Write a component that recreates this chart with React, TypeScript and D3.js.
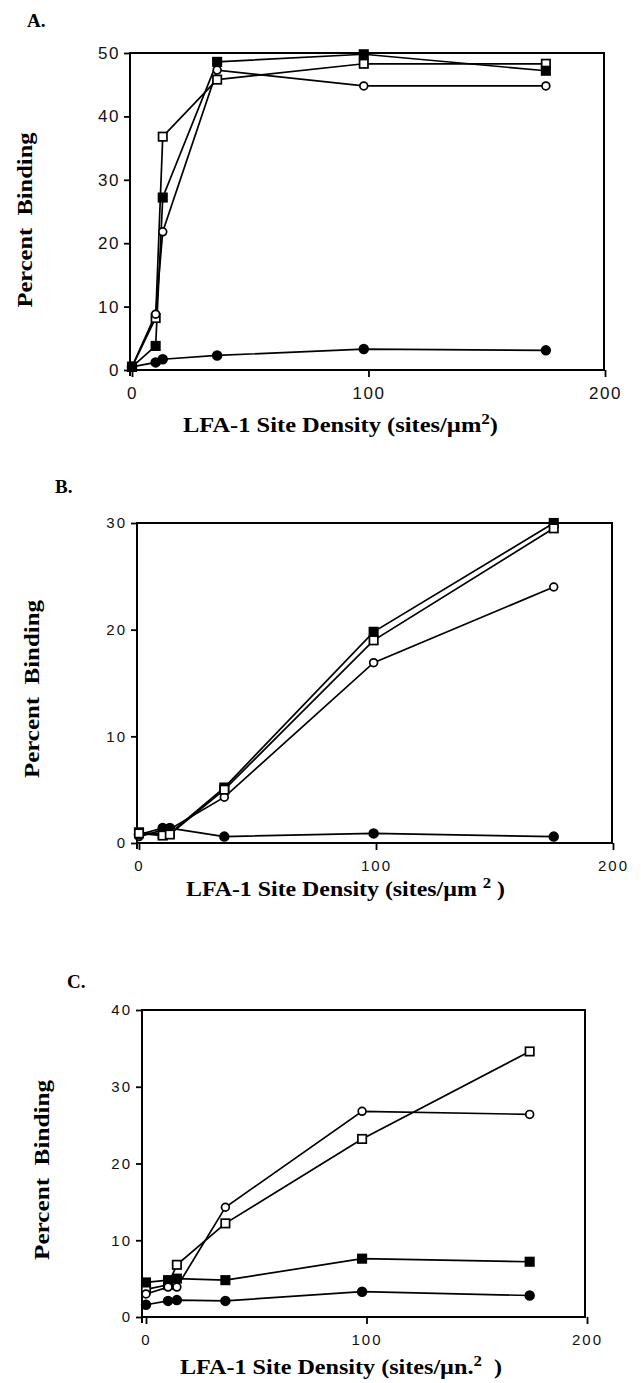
import * as d3 from "d3";
import { useEffect, useRef } from "react";

// site densities (sites/um^2) used in each panel
const densityA = [0, 10, 13, 36, 98, 175];
const densityB = [0, 10, 13, 36, 99, 175];
const densityC = [0, 10, 14, 36, 98, 174];

// panel A
const aOpenSquare = [0.5, 8.2, 36.8, 45.8, 48.3, 48.3];
const aFilledSquare = [0.5, 3.8, 27.2, 48.6, 49.8, 47.2];
const aOpenCircle = [0.5, 8.8, 21.8, 47.3, 44.8, 44.8];
const aFilledCircle = [0.5, 1.2, 1.7, 2.3, 3.3, 3.1];

// panel B
const bOpenSquare = [0.9, 0.7, 0.8, 5.0, 19.0, 29.5];
const bFilledSquare = [1.0, 0.8, 0.9, 5.2, 19.8, 30.0];
const bOpenCircle = [0.6, 1.2, 1.3, 4.3, 16.9, 24.0];
const bFilledCircle = [0.8, 1.4, 1.4, 0.6, 0.9, 0.6];

// panel C
const cOpenSquare = [3.6, 4.2, 6.8, 12.2, 23.2, 34.6];
const cFilledSquare = [4.5, 4.8, 5.0, 4.8, 7.6, 7.2];
const cOpenCircle = [3.0, 3.9, 3.9, 14.3, 26.8, 26.4];
const cFilledCircle = [1.6, 2.1, 2.2, 2.1, 3.3, 2.8];

const xTicks = [0, 100, 200];
const yTicksA = [0, 10, 20, 30, 40, 50];
const yTicksB = [0, 10, 20, 30];
const yTicksC = [0, 10, 20, 30, 40];

const serif = "'Liberation Serif', 'Times New Roman', serif";
const sans = "'Liberation Sans', Arial, sans-serif";

type Marker = "openSquare" | "filledSquare" | "openCircle" | "filledCircle";

const MarkerShape = ({ kind, x, y }) => {
  if (kind === "openSquare" || kind === "filledSquare") {
    return (
      <rect
        x={x - 4.2}
        y={y - 4.2}
        width={8.4}
        height={8.4}
        fill={kind === "filledSquare" ? "#000" : "#fff"}
        stroke="#000"
        strokeWidth={1.7}
      />
    );
  }
  return (
    <circle
      cx={x}
      cy={y}
      r={kind === "filledCircle" ? 4.4 : 3.9}
      fill={kind === "filledCircle" ? "#000" : "#fff"}
      stroke="#000"
      strokeWidth={1.7}
    />
  );
};

const Panel = (props) => {
  const { letter, letterPos, xs, series, yTicks, box, yTitle, xTitle, tickFont } = props;
  const xAxisRef = useRef(null);
  const yAxisRef = useRef(null);

  const xScale = d3.scaleLinear().domain([0, 200]).range([box.x0, box.x200]);
  const yScale = d3
    .scaleLinear()
    .domain([0, yTicks[yTicks.length - 1]])
    .range([box.bottom, box.top]);

  useEffect(() => {
    const xAxis = d3.axisBottom(xScale).tickValues(xTicks).tickSize(7).tickPadding(tickFont.padX);
    const yAxis = d3.axisLeft(yScale).tickValues(yTicks).tickSize(6).tickPadding(4);
    const gx = d3.select(xAxisRef.current).call(xAxis);
    const gy = d3.select(yAxisRef.current).call(yAxis);
    [gx, gy].forEach((g) => {
      g.select(".domain").remove();
      g.selectAll("line").attr("stroke", "#000").attr("stroke-width", 1.8);
      g.selectAll("text")
        .attr("fill", "#111")
        .style("font-family", sans)
        .style("font-size", `${tickFont.size}px`)
        .style("letter-spacing", `${tickFont.spacing}px`);
    });
  });

  const line = d3
    .line<[number, number]>()
    .x((d) => xScale(d[0]))
    .y((d) => yScale(d[1]));

  return (
    <g>
      <text
        x={letterPos[0]}
        y={letterPos[1]}
        fontFamily={serif}
        fontWeight="bold"
        fontSize={19}
      >
        {letter}
      </text>
      <rect
        x={box.left}
        y={yScale(yTicks[yTicks.length - 1])}
        width={box.right - box.left}
        height={box.bottom - yScale(yTicks[yTicks.length - 1])}
        fill="none"
        stroke="#000"
        strokeWidth={2}
      />
      <line x1={box.left} x2={box.left} y1={box.bottom} y2={box.bottom + 6} stroke="#000" strokeWidth={2} />
      <g ref={xAxisRef} transform={`translate(0, ${box.bottom})`} />
      <g ref={yAxisRef} transform={`translate(${box.left}, 0)`} />
      {series.map((s) => (
        <path
          key={s.kind + "-line"}
          d={line(xs.map((x, i) => [x, s.values[i]]))}
          fill="none"
          stroke="#000"
          strokeWidth={1.7}
        />
      ))}
      {series.map((s) =>
        s.values.map((v, i) => (
          <MarkerShape key={s.kind + i} kind={s.kind} x={xScale(xs[i])} y={yScale(v)} />
        ))
      )}
      <text
        transform={`translate(${yTitle[0]}, ${yTitle[1]}) rotate(-90)`}
        textAnchor="middle"
        fontFamily={serif}
        fontWeight="bold"
        fontSize={21}
        textLength={yTitle[2]}
        lengthAdjust="spacingAndGlyphs"
        style={{ whiteSpace: "pre" }}
      >
        {"Percent  Binding"}
      </text>
      <text
        x={xTitle.x}
        y={xTitle.y}
        fontFamily={serif}
        fontWeight="bold"
        fontSize={20}
        textLength={xTitle.w}
        lengthAdjust="spacingAndGlyphs"
        style={{ whiteSpace: "pre" }}
      >
        {xTitle.pre}
        <tspan fontSize={14} dy={-8}>
          2
        </tspan>
        <tspan dy={8}>{xTitle.post}</tspan>
      </text>
    </g>
  );
};

const App = () => {
  const panelA = [
    { kind: "openSquare" as Marker, values: aOpenSquare },
    { kind: "filledSquare" as Marker, values: aFilledSquare },
    { kind: "openCircle" as Marker, values: aOpenCircle },
    { kind: "filledCircle" as Marker, values: aFilledCircle },
  ];
  const panelB = [
    { kind: "openCircle" as Marker, values: bOpenCircle },
    { kind: "filledCircle" as Marker, values: bFilledCircle },
    { kind: "filledSquare" as Marker, values: bFilledSquare },
    { kind: "openSquare" as Marker, values: bOpenSquare },
  ];
  const panelC = [
    { kind: "openSquare" as Marker, values: cOpenSquare },
    { kind: "filledSquare" as Marker, values: cFilledSquare },
    { kind: "openCircle" as Marker, values: cOpenCircle },
    { kind: "filledCircle" as Marker, values: cFilledCircle },
  ];

  return (
    <svg
      width={641}
      height={1383}
      style={{ position: "absolute", left: 0, top: 0, background: "#fff" }}
    >
      <rect width={641} height={1383} fill="#fff" />
      <Panel
        letter="A."
        letterPos={[27, 27]}
        xs={densityA}
        series={panelA}
        yTicks={yTicksA}
        box={{ left: 130, right: 604, top: 53, bottom: 370, x0: 132, x200: 605 }}
        tickFont={{ size: 17, spacing: 1.5, padX: 10 }}
        yTitle={[32, 220, 175]}
        xTitle={{ x: 183, y: 432, w: 315, pre: "LFA-1 Site Density (sites/\u00b5m", post: ")" }}
      />
      <Panel
        letter="B."
        letterPos={[55, 493]}
        xs={densityB}
        series={panelB}
        yTicks={yTicksB}
        box={{ left: 137, right: 612, top: 523, bottom: 843, x0: 139, x200: 613 }}
        tickFont={{ size: 15, spacing: 2, padX: 10 }}
        yTitle={[39, 689, 178]}
        xTitle={{ x: 186, y: 896, w: 319, pre: "LFA-1 Site Density (sites/\u00b5m ", post: " )" }}
      />
      <Panel
        letter="C."
        letterPos={[67, 988]}
        xs={densityC}
        series={panelC}
        yTicks={yTicksC}
        box={{ left: 142, right: 585, top: 1010, bottom: 1317, x0: 146, x200: 587 }}
        tickFont={{ size: 15, spacing: 2, padX: 10 }}
        yTitle={[49, 1170, 180]}
        xTitle={{ x: 180, y: 1374, w: 322, pre: "LFA-1 Site Density (sites/\u00b5n.", post: "  )" }}
      />
    </svg>
  );
};

export default App;
